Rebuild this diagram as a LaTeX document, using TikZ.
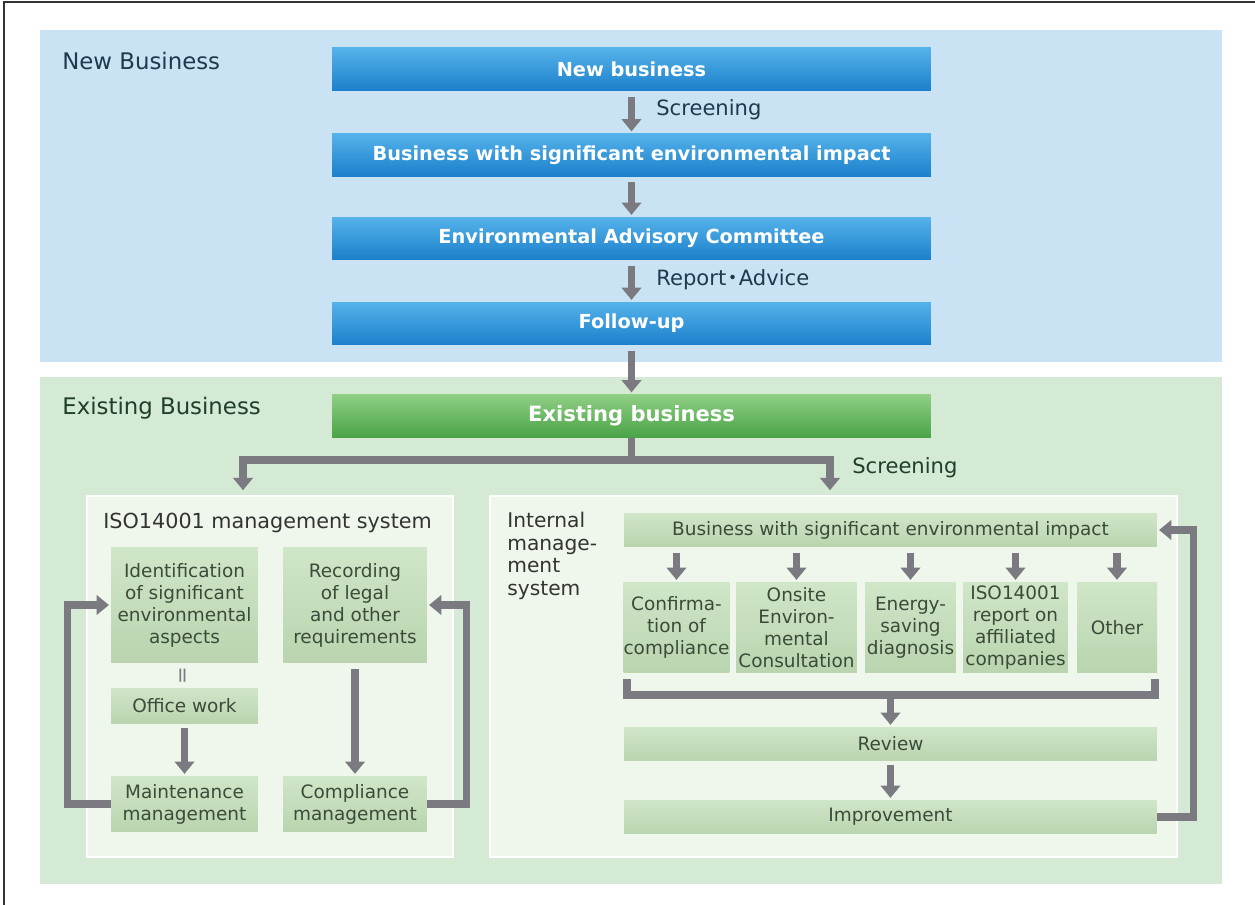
\documentclass[tikz,border=0pt]{standalone}
\usepackage{fontspec}
\setmainfont{DejaVu Sans}
\newfontfamily\cjk{Noto Sans CJK JP}
\usetikzlibrary{arrows.meta}
\definecolor{col_c9e2f4}{RGB}{201,226,244}
\definecolor{col_d5ead5}{RGB}{213,234,213}
\definecolor{col_eff6ec}{RGB}{239,246,236}
\definecolor{col_55b3ea}{RGB}{85,179,234}
\definecolor{col_1b7fcb}{RGB}{27,127,203}
\definecolor{col_8fcf86}{RGB}{143,207,134}
\definecolor{col_4aa346}{RGB}{74,163,70}
\definecolor{col_d0e6c8}{RGB}{208,230,200}
\definecolor{col_b9d4ae}{RGB}{185,212,174}
\definecolor{col_7b7a80}{RGB}{123,122,128}
\definecolor{col_1f3a4d}{RGB}{31,58,77}
\definecolor{col_1f3f2a}{RGB}{31,63,42}
\definecolor{col_3c4a3a}{RGB}{60,74,58}
\definecolor{col_333333}{RGB}{51,51,51}
\newcommand{\tikzdrawbox}[6]{%
\node[greenbox, minimum width=#4, minimum height=#5] (#1) at (#2,#3) {#6};
}

\begin{document}
\begin{tikzpicture}[x=0.02cm,y=-0.02cm,
  bluebox/.style={top color=col_55b3ea, bottom color=col_1b7fcb, text=white, font=\fontsize{11}{13}\selectfont\bfseries, minimum width=11.98cm, minimum height=0.86cm, inner sep=0pt},
  greenbox/.style={top color=col_d0e6c8, bottom color=col_b9d4ae, text=col_3c4a3a, align=center, font=\fontsize{10.5}{12.5}\selectfont, inner sep=0pt},
  panel/.style={fill=col_eff6ec, draw=white, line width=1pt, inner sep=0pt},
  garrow/.style={draw=col_7b7a80, line width=4pt, -{Triangle[width=11pt,length=7pt]}, shorten >=1pt},
  gline/.style={draw=col_7b7a80, line width=4pt},
  title/.style={anchor=west, inner sep=0pt, font=\fontsize{13}{15}\selectfont},
  note/.style={anchor=west, inner sep=0pt, text=col_1f3a4d, font=\fontsize{12}{14}\selectfont}]
\useasboundingbox (0,0) rectangle (1255,905);
\draw[col_333333, line width=0.8pt] (4,905) -- (4,2) -- (1255,2);     %% frame
\fill[col_c9e2f4] (40,30) rectangle (1222,362);     %% new business panel
\fill[col_d5ead5] (40,377) rectangle (1222,884);     %% existing business panel
\node[title, text=col_1f3a4d] (newtitle) at (62,61) {New Business};
\node[title, text=col_1f3f2a] (oldtitle) at (62,408) {Existing Business};
\node[bluebox] (newbiz) at (631.5,69.5) {New business};
\node[bluebox] (sigbiz) at (631.5,155) {Business with significant environmental impact};
\node[bluebox] (committee) at (631.5,238.5) {Environmental Advisory Committee};
\node[bluebox] (followup) at (631.5,323.5) {Follow-up};
\node[bluebox, top color=col_8fcf86, bottom color=col_4aa346, font=\fontsize{12}{14}\selectfont\bfseries] (oldbiz) at (631.5,416) {Existing business};
\draw[garrow, shorten <=3pt] (newbiz) -- (sigbiz);
\draw[garrow, shorten <=3pt] (sigbiz) -- (committee);
\draw[garrow, shorten <=3pt] (committee) -- (followup);
\draw[garrow, shorten <=3pt] (followup) -- (oldbiz);
\node[note] (screen1) at (656,110) {Screening};
\node[note] (report) at (656,280) {Report\kern-0.2em{\cjk ・}\kern-0.2em Advice};
\node[note, text=col_1f3f2a] (screen2) at (852,468) {Screening};
%% the two systems
\node[panel, minimum width=7.32cm, minimum height=7.22cm] (isosys) at (270,676.5) {};
\node[panel, minimum width=13.74cm, minimum height=7.22cm] (intsys) at (833.5,676.5) {};
\coordinate (fork) at (631.5,460);
\coordinate (isoin) at (243,492);
\coordinate (intin) at (830,492);
\draw[gline] (oldbiz) -- (fork);
\draw[garrow] (fork) -| (isoin);
\draw[garrow] (fork) -| (intin);
\node[anchor=west, inner sep=0pt, text=col_333333, font=\fontsize{11.8}{14}\selectfont] (isotitle) at (103,523) {ISO14001 management system};
\tikzdrawbox{ident}{184.5}{605}{2.94cm}{2.32cm}{Identification\\of significant\\environmental\\aspects}
\tikzdrawbox{record}{355}{605}{2.88cm}{2.32cm}{Recording\\of legal\\and other\\requirements}
\tikzdrawbox{office}{184.5}{706}{2.94cm}{0.72cm}{Office work}
\tikzdrawbox{maint}{184.5}{804}{2.94cm}{1.12cm}{Maintenance\\management}
\tikzdrawbox{compl}{355}{804}{2.88cm}{1.12cm}{Compliance\\management}
\node[rotate=90, text=col_7b7a80, font=\fontsize{12}{14}\selectfont] (same) at (184.5,676) {=};
\draw[garrow, shorten <=2pt] (office) -- (maint);
\draw[garrow, shorten <=3pt] (record) -- (compl);
\draw[garrow] (maint.west) -- ++(-43,0) |- (ident.west);
\draw[garrow] (compl.east) -- ++(39,0) |- (record.east);
\node[anchor=north west, align=left, inner sep=0pt, text=col_333333, font=\fontsize{11.5}{12.8}\selectfont] (inttitle) at (507,512) {Internal\\manage-\\ment\\system};
\tikzdrawbox{impact}{890.5}{530}{10.66cm}{0.68cm}{Business with significant environmental impact}
\tikzdrawbox{confirm}{676.5}{627.5}{2.10cm}{1.82cm}{Confirma-\\tion of\\compliance}
\tikzdrawbox{onsite}{796.5}{627.5}{2.42cm}{1.82cm}{Onsite\\Environ-\\mental\\Consultation}
\tikzdrawbox{energy}{910.5}{627.5}{1.82cm}{1.82cm}{Energy-\\saving\\diagnosis}
\tikzdrawbox{isorep}{1015.5}{627.5}{2.10cm}{1.82cm}{ISO14001\\report on\\affiliated\\companies}
\tikzdrawbox{other}{1117}{627.5}{1.60cm}{1.82cm}{Other}
\tikzdrawbox{review}{890.5}{744}{10.66cm}{0.68cm}{Review}
\tikzdrawbox{improve}{890.5}{817}{10.66cm}{0.68cm}{Improvement}
\foreach \k in {confirm,onsite,energy,isorep,other}
  \draw[garrow, shorten <=3pt] (impact.south -| \k.north) -- (\k.north);
\coordinate (brleft) at (627,679);
\coordinate (brright) at (1155,679);
\coordinate (brmid) at (890.5,695);
\draw[gline] (brleft) |- (brmid) -| (brright);
\draw[garrow] (brmid) -- (review.north);
\draw[garrow, shorten <=2pt] (review) -- (improve);
\draw[garrow] (improve.east) -- ++(36,0) |- (impact.east);
\end{tikzpicture}
\end{document}
